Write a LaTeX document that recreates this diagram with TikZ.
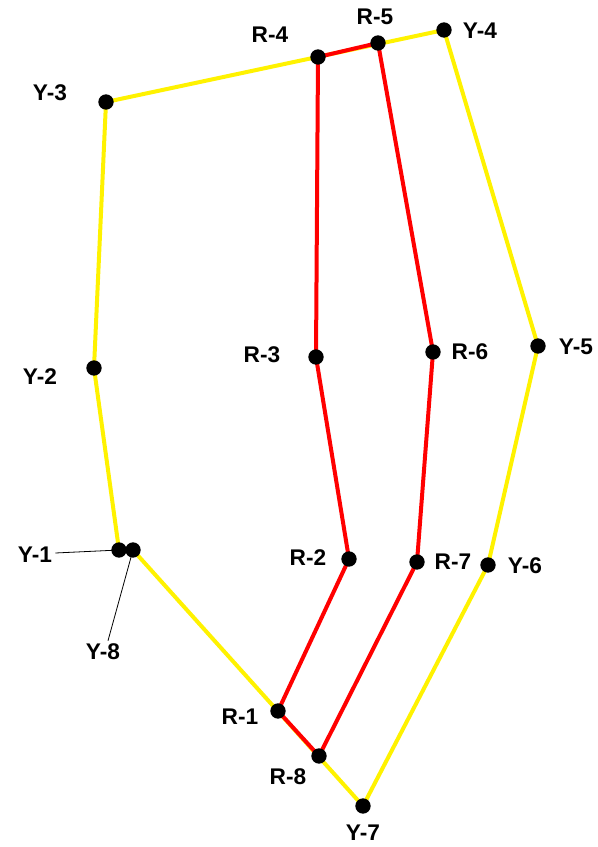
\documentclass[tikz,border=0pt]{standalone}
\usepackage{fontspec}
\setmainfont{Liberation Sans}
\usetikzlibrary{backgrounds}

\begin{document}
\begin{tikzpicture}[
  x=0.75pt,y=-0.75pt,
  dot/.style={circle,fill=black,inner sep=0pt,minimum size=11.5pt},
  lbl/.style={inner sep=0pt,font=\fontsize{17}{20}\selectfont\bfseries},
  yline/.style={yellow,line width=3pt,line join=round},
  rline/.style={red,line width=3pt,line join=round},
  leader/.style={black,line width=0.6pt}
]
\useasboundingbox (0,0) rectangle (597,847);
% yellow points
\node[dot] (Y1) at (119,550) {};
\node[dot] (Y2) at (94,368) {};
\node[dot] (Y3) at (106,102) {};
\node[dot] (Y4) at (444,30) {};
\node[dot] (Y5) at (538,346) {};
\node[dot] (Y6) at (488,565) {};
\node[dot] (Y7) at (363,806) {};
\node[dot] (Y8) at (133,550) {};
% red points
\node[dot] (R1) at (278,711) {};
\node[dot] (R2) at (349,559) {};
\node[dot] (R3) at (316,357) {};
\node[dot] (R4) at (318,57) {};
\node[dot] (R5) at (378,43) {};
\node[dot] (R6) at (433,352) {};
\node[dot] (R7) at (417,562) {};
\node[dot] (R8) at (319,756) {};
% labels
\node[lbl] (lY1) at (35,555) {Y-1};
\node[lbl] (lY2) at (40,377) {Y-2};
\node[lbl] (lY3) at (50,93) {Y-3};
\node[lbl] (lY4) at (480,31) {Y-4};
\node[lbl] (lY5) at (576,347) {Y-5};
\node[lbl] (lY6) at (525,566) {Y-6};
\node[lbl] (lY7) at (363,833) {Y-7};
\node[lbl] (lY8) at (103,652) {Y-8};
\node[lbl] (lR1) at (240,717) {R-1};
\node[lbl] (lR2) at (308,558) {R-2};
\node[lbl] (lR3) at (262,355) {R-3};
\node[lbl] (lR4) at (270,35) {R-4};
\node[lbl] (lR5) at (375,17) {R-5};
\node[lbl] (lR6) at (470,352) {R-6};
\node[lbl] (lR7) at (453,562) {R-7};
\node[lbl] (lR8) at (288,777) {R-8};
\begin{scope}[on background layer]
\draw[yline] (Y1.center) -- (Y2.center) -- (Y3.center) -- (Y4.center) -- (Y5.center)
  -- (Y6.center) -- (Y7.center) -- (Y8.center) -- cycle;
\draw[rline] (R1.center) -- (R2.center) -- (R3.center) -- (R4.center) -- (R5.center)
  -- (R6.center) -- (R7.center) -- (R8.center) -- cycle;
\draw[leader] (lY1.east) ++(3,-2) -- (Y1.center);
\draw[leader] (lY8.north) ++(5,-3) -- (Y8.center);
\end{scope}
\end{tikzpicture}
\end{document}
